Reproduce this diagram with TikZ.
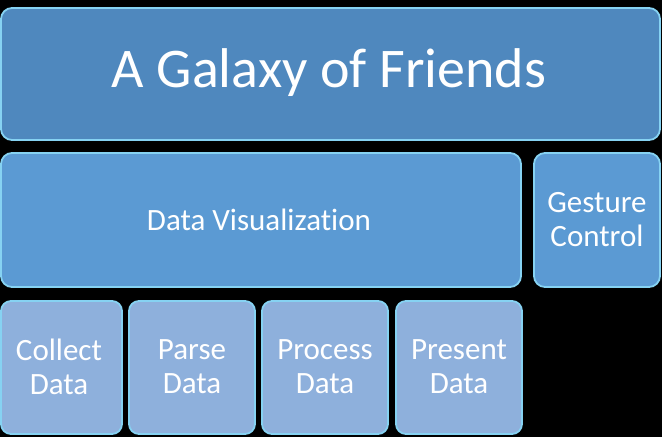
\documentclass[tikz,border=0pt]{standalone}
\usepackage{fontspec}
\setmainfont[Ligatures=NoCommon]{Carlito}
\begin{document}
\begin{tikzpicture}[x=1pt,y=-1pt,
  boxbase/.style={draw=edgec, line width=1.8pt, rounded corners=11pt},
  topbox/.style={boxbase, fill=topc},
  midbox/.style={boxbase, fill=midc},
  lowbox/.style={boxbase, fill=lowc, rounded corners=10pt},
  lbl/.style={text=white, align=center, font=\fontsize{31}{34}\selectfont}
]
\definecolor{topc}{HTML}{4F88BE}
\definecolor{midc}{HTML}{5B9AD3}
\definecolor{lowc}{HTML}{8EB0DC}
\definecolor{edgec}{HTML}{86D2F2}
\fill[black] (0,0) rectangle (662,437);
\useasboundingbox (0,0) rectangle (662,437);
\draw[topbox] (1,8) rectangle (660,140);
\node[text=white, font=\fontsize{56}{64}\selectfont] (title) at (329,73) {A Galaxy of Friends};
\draw[midbox] (1,153) rectangle (521,287);
\node[lbl] (dv) at (259,220) {Data Visualization};
\draw[midbox] (534,153) rectangle (660,287);
\node[lbl] (gc) at (597,220) {Gesture\\Control};
\draw[lowbox] (1,301) rectangle (122,434);
\node[lbl] (cd) at (59,367) {Collect\\Data};
\draw[lowbox] (129,301) rectangle (255,434);
\node[lbl] (pd) at (192,367) {Parse\\Data};
\draw[lowbox] (262,301) rectangle (388,434);
\node[lbl] (prd) at (325,367) {Process\\Data};
\draw[lowbox] (396,301) rectangle (522,434);
\node[lbl] (ped) at (459,367) {Present\\Data};
\end{tikzpicture}
\end{document}
